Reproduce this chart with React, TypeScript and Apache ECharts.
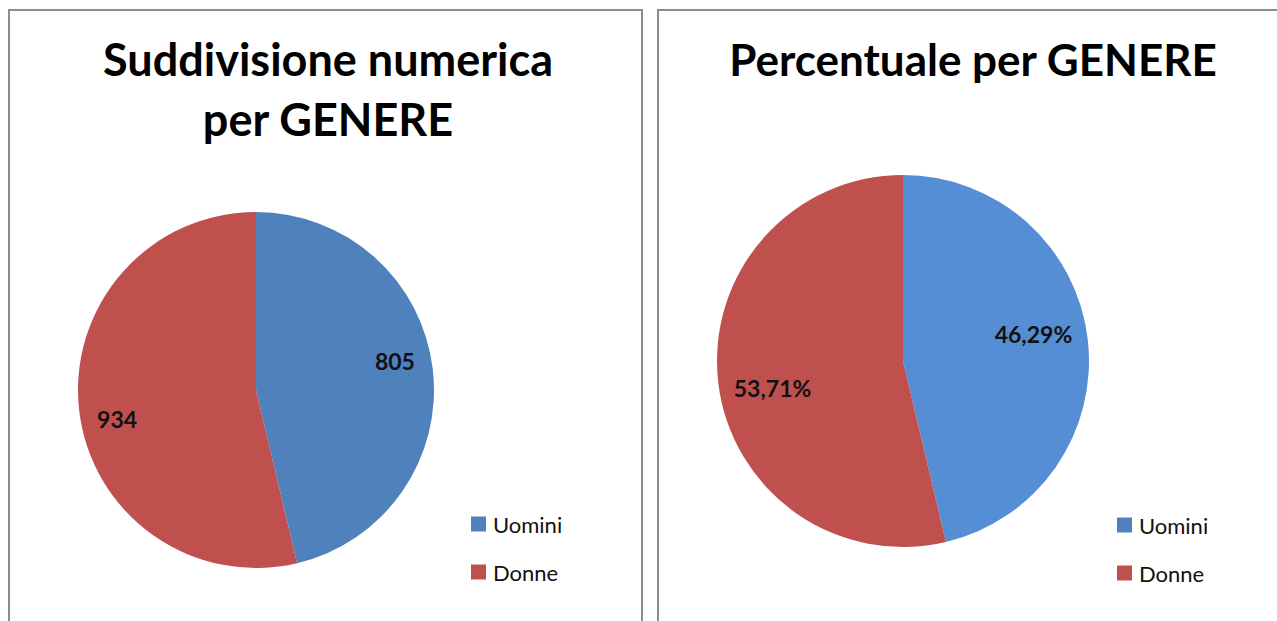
import React, { useEffect, useRef } from "react";
import * as echarts from "echarts";

const categories = ["Uomini", "Donne"];
const counts = [805, 934];
const percents = [46.29, 53.71];
const colors = ["#4F81BD", "#C0504D"];
const colorsRight = ["#558ED5", "#C0504D"];

const FONT = "Lato, 'Open Sans', sans-serif";

export default function App() {
  const ref = useRef<HTMLDivElement>(null);
  useEffect(() => {
    const chart = echarts.init(ref.current!, null, { renderer: "svg" });
    const leftData = categories.map((n, i) => ({ name: n, value: counts[i], itemStyle: { color: colors[i] } }));
    const rightData = categories.map((n, i) => ({ name: n, value: percents[i], itemStyle: { color: colorsRight[i] } }));
    const labelStyle = { fontFamily: FONT, fontWeight: "bold", fontSize: 23, color: "#111" };
    const labelSeries = (data: any[], center: any[], r: number, fmt: (p: any) => string) => ({
      type: "pie",
      silent: true,
      center,
      radius: [0, r],
      startAngle: 95,
      clockwise: true,
      data: data.map((d) => ({ name: d.name, value: d.value, itemStyle: { color: "rgba(0,0,0,0)" } })),
      label: { show: true, position: "inside", formatter: fmt, ...labelStyle },
      labelLine: { show: false },
      emphasis: { disabled: true },
      legendHoverLink: false,
    });
    const legendBase = {
      data: categories,
      orient: "vertical",
      itemWidth: 15,
      itemHeight: 15,
      itemGap: 26,
      icon: "rect",
      selectedMode: false,
      textStyle: { fontFamily: FONT, fontSize: 22, color: "#111", padding: [0, 0, 0, 2] },
    };
    chart.setOption({
      animation: false,
      backgroundColor: "#fff",
      title: [
        {
          text: "Suddivisione numerica\nper GENERE",
          left: 323,
          top: 24,
          textAlign: "center",
          textStyle: { fontFamily: FONT, fontWeight: "bold", fontSize: 45, lineHeight: 60, color: "#000" },
        },
        {
          text: "Percentuale per GENERE",
          left: 968,
          top: 24,
          textAlign: "center",
          textStyle: { fontFamily: FONT, fontWeight: "bold", fontSize: 44, lineHeight: 60, color: "#000" },
        },
      ],
      legend: [
        { ...legendBase, left: 466, top: 508 },
        { ...legendBase, left: 1112, top: 509 },
      ],
      graphic: [
        { type: "rect", shape: { x: 9, y: 10, width: 633, height: 640 }, style: { fill: "none", stroke: "#8c8c8c", lineWidth: 2 } },
        { type: "rect", shape: { x: 658, y: 10, width: 640, height: 640 }, style: { fill: "none", stroke: "#8c8c8c", lineWidth: 2 } },
      ],
      series: [
        {
          type: "pie",
          center: [256, 390],
          radius: [0, 178],
          startAngle: 90,
          clockwise: true,
          data: leftData,
          label: { show: false },
          labelLine: { show: false },
        },
        {
          type: "pie",
          center: [903, 361],
          radius: [0, 186],
          startAngle: 90,
          clockwise: true,
          data: rightData,
          label: { show: false },
          labelLine: { show: false },
        },
        labelSeries(leftData, [256, 390], 178 * 1.56, (p: any) => String(p.value)),
        labelSeries(rightData, [903, 361], 186 * 1.40, (p: any) => p.value.toFixed(2).replace(".", ",") + "%"),
      ],
    });
    return () => chart.dispose();
  }, []);
  return <div ref={ref} style={{ position: "absolute", left: 0, top: 0, width: 1277, height: 621 }} />;
}
